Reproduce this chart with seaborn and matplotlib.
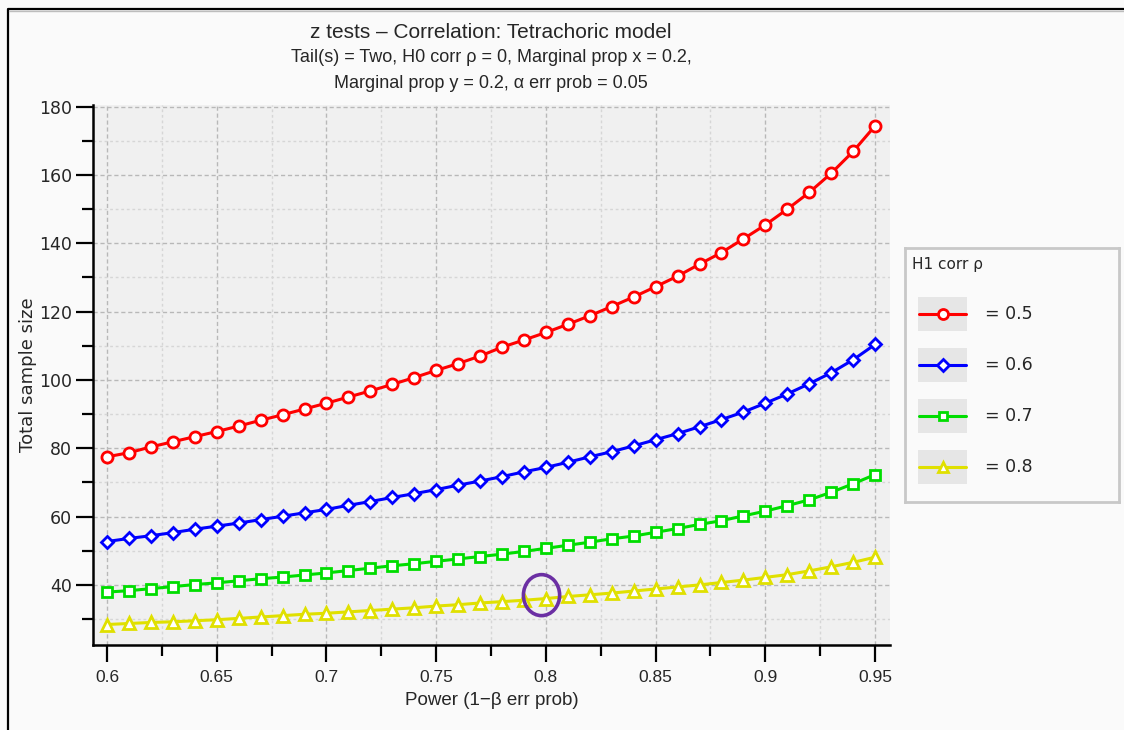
import numpy as np
import pandas as pd
import seaborn as sns
import matplotlib

matplotlib.use("Agg")
import matplotlib.pyplot as plt
from matplotlib import font_manager
from matplotlib.lines import Line2D
from matplotlib.patches import Ellipse, Rectangle
from matplotlib.ticker import MultipleLocator

# values
power = [0.60, 0.61, 0.62, 0.63, 0.64, 0.65, 0.66, 0.67, 0.68, 0.69,
         0.70, 0.71, 0.72, 0.73, 0.74, 0.75, 0.76, 0.77, 0.78, 0.79,
         0.80, 0.81, 0.82, 0.83, 0.84, 0.85, 0.86, 0.87, 0.88, 0.89,
         0.90, 0.91, 0.92, 0.93, 0.94, 0.95]

n_rho_05 = [77.5, 78.7, 80.4, 81.9, 83.4, 84.9, 86.5, 88.2, 89.8, 91.5,
            93.2, 95.0, 96.8, 98.7, 100.7, 102.8, 104.8, 107.0, 109.6, 111.7,
            113.9, 116.3, 118.8, 121.5, 124.3, 127.3, 130.4, 133.9, 137.3, 141.3,
            145.4, 150.0, 154.9, 160.5, 166.9, 174.4]
n_rho_06 = [52.7, 53.6, 54.4, 55.3, 56.3, 57.2, 58.1, 59.1, 60.1, 61.1,
            62.1, 63.3, 64.4, 65.6, 66.7, 67.9, 69.2, 70.4, 71.7, 73.1,
            74.4, 75.9, 77.5, 79.0, 80.7, 82.5, 84.3, 86.3, 88.4, 90.6,
            93.2, 95.9, 98.9, 102.1, 105.9, 110.4]
n_rho_07 = [37.9, 38.3, 38.9, 39.5, 40.1, 40.6, 41.2, 41.8, 42.3, 42.9,
            43.5, 44.2, 44.9, 45.6, 46.2, 46.9, 47.6, 48.3, 49.0, 49.8,
            50.7, 51.6, 52.5, 53.5, 54.3, 55.4, 56.5, 57.7, 58.8, 60.2,
            61.6, 63.2, 64.9, 67.1, 69.6, 72.3]
n_rho_08 = [28.4, 28.7, 29.0, 29.2, 29.5, 29.8, 30.2, 30.6, 31.0, 31.4,
            31.7, 32.1, 32.5, 32.9, 33.3, 33.8, 34.2, 34.7, 35.1, 35.5,
            36.0, 36.6, 37.1, 37.6, 38.2, 38.8, 39.4, 40.0, 40.7, 41.4,
            42.2, 43.0, 44.1, 45.3, 46.6, 48.1]

series_labels = ["= 0.5", "= 0.6", "= 0.7", "= 0.8"]
series_values = [n_rho_05, n_rho_06, n_rho_07, n_rho_08]
series_colors = ["#ff0000", "#0000ff", "#00dd00", "#e0e000"]
series_markers = ["o", "D", "s", "^"]
series_msize = [8, 6.5, 7, 8]

# highlighted point (power = 0.8 on the yellow curve)
mark_x, mark_y = 0.798, 37.0

df = pd.DataFrame({
    "power": np.tile(power, len(series_values)),
    "n": np.concatenate(series_values),
    "rho": np.repeat(series_labels, len(power)),
})

available = {f.name for f in font_manager.fontManager.ttflist}
narrow = "Liberation Sans Narrow" if "Liberation Sans Narrow" in available else "Liberation Sans"

sns.set_theme(style="white")
plt.rcParams["font.family"] = ["DejaVu Sans"]

fig = plt.figure(figsize=(11.24, 7.30), dpi=100, facecolor="#fafafa")
ax = fig.add_axes([93 / 1124, 85 / 730, 797 / 1124, 540 / 730])
ax.set_facecolor("#f0f0f0")

for label, color, marker, ms in zip(series_labels, series_colors, series_markers, series_msize):
    sub = df[df["rho"] == label]
    sns.lineplot(data=sub, x="power", y="n", ax=ax, color=color, lw=2.2,
                 marker=marker, markersize=ms, markerfacecolor="white",
                 markeredgecolor=color, markeredgewidth=2.0, legend=False,
                 zorder=3)

ax.add_patch(Ellipse((mark_x, mark_y), 0.0165, 12.0, fill=False,
                     edgecolor="#6b2fa3", lw=2.6, zorder=5))

ax.set_xlim(0.5936, 0.9568)
ax.set_ylim(22.4, 180.5)
ax.xaxis.set_major_locator(MultipleLocator(0.05))
ax.xaxis.set_minor_locator(MultipleLocator(0.025))
ax.yaxis.set_major_locator(MultipleLocator(20))
ax.yaxis.set_minor_locator(MultipleLocator(10))
ax.set_xticks([0.6, 0.65, 0.7, 0.75, 0.8, 0.85, 0.9, 0.95])
ax.set_xticklabels(["0.6", "0.65", "0.7", "0.75", "0.8", "0.85", "0.9", "0.95"],
                   family=narrow, fontsize=12.5)
for t in ax.get_yticklabels():
    t.set_fontsize(12.5)

ax.grid(which="major", color="#b8b8b8", ls=(0, (3, 2)), lw=1.0)
ax.grid(which="minor", color="#d6d6d6", ls=(0, (2, 2)), lw=1.0)
ax.set_axisbelow(True)

for side in ["top", "right"]:
    ax.spines[side].set_visible(False)
for side in ["left", "bottom"]:
    ax.spines[side].set_color("black")
    ax.spines[side].set_linewidth(1.8)
ax.tick_params(which="major", direction="out", length=12, width=1.6,
               color="black", left=True, bottom=True)
ax.tick_params(axis="x", which="major", pad=6)
ax.tick_params(axis="y", which="major", pad=3)
ax.tick_params(which="minor", direction="out", length=8, width=1.6,
               color="black", left=True, bottom=True)

ax.set_xlabel("Power (1\u2212\u03b2 err prob)", family=narrow, fontsize=13.5, labelpad=5)
ax.set_ylabel("Total sample size", fontsize=13)
ax.yaxis.set_label_coords((37 - 93) / 797, 0.5)

fig.text(491 / 1124, 1 - 33 / 730, "z tests \u2013 Correlation: Tetrachoric model",
         ha="center", va="center", family=narrow, fontsize=15)
fig.text(491 / 1124, 1 - 58 / 730,
         "Tail(s) = Two, H0 corr \u03c1 = 0, Marginal prop x = 0.2,",
         ha="center", va="center", family=narrow, fontsize=13)
fig.text(491 / 1124, 1 - 83 / 730,
         "Marginal prop y = 0.2, \u03b1 err prob = 0.05",
         ha="center", va="center", family=narrow, fontsize=13)

# legend panel
lax = fig.add_axes([905 / 1124, (730 - 502) / 730, 214 / 1124, 254 / 730])
lax.set_facecolor("#fafafa")
lax.set_xlim(0, 214)
lax.set_ylim(254, 0)
lax.set_xticks([])
lax.set_yticks([])
for sp in lax.spines.values():
    sp.set_color("#c8c8c8")
    sp.set_linewidth(2)
lax.text(7, 17, "H1 corr \u03c1", ha="left", va="center", fontsize=11)
for i, (label, color, marker, ms) in enumerate(zip(series_labels, series_colors, series_markers, series_msize)):
    yc = 66 + 51 * i
    lax.add_patch(Rectangle((13, yc - 17), 49, 34, facecolor="#e6e6e6", edgecolor="none"))
    lax.add_line(Line2D([14, 61], [yc, yc], color=color, lw=2.2))
    lax.add_line(Line2D([37.5], [yc], marker=marker, markersize=ms * 0.9,
                        markerfacecolor="white", markeredgecolor=color,
                        markeredgewidth=2.0, color=color))
    lax.text(80, yc, label, ha="left", va="center", fontsize=12.5)

# outer frame (left and top edges)
fig.add_artist(Line2D([7.5 / 1124, 7.5 / 1124, 1.0], [0.0, 1 - 9 / 730, 1 - 9 / 730],
                      transform=fig.transFigure, color="black", lw=1.6))
fig.add_artist(Line2D([9 / 1124, 1.0], [1 - 11 / 730, 1 - 11 / 730],
                      transform=fig.transFigure, color="#bdbdbd", lw=1.0))

fig.savefig("out.png", dpi=100, facecolor=fig.get_facecolor())
